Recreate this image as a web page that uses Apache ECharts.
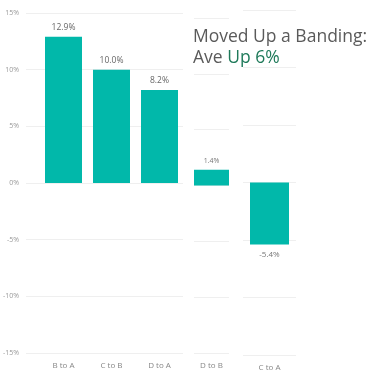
<!DOCTYPE html>
<html>
<head>
<meta charset="utf-8">
<script src="https://cdn.jsdelivr.net/npm/echarts@6/dist/echarts.min.js"></script>
<style>
  html, body { margin: 0; padding: 0; background: #fff; }
  #chart { width: 377px; height: 377px; }
</style>
</head>
<body>
<div id="chart"></div>
<script>
// Datos (tres paneles con su propia escala)
const catsMain = ['B to A', 'C to B', 'D to A'];
const valsMain = [12.9, 10.0, 8.2];
const catsMid = ['D to B'];
const valsMid = [1.4];
const catsRight = ['C to A'];
const valsRight = [-5.4];
const yTicks = [-15, -10, -5, 0, 5, 10, 15];

const teal = '#01B8AA';
const font = '"Open Sans", "Noto Sans", sans-serif';

function pct(v) {
    return v.toFixed(1) + '%';
}

function barData(vals) {
    return vals.map(v => ({
        value: v,
        label: { position: v < 0 ? 'bottom' : 'top' }
    }));
}

function yAxisFor(gridIndex, showLabels, showSplit) {
    return {
        type: 'value',
        gridIndex: gridIndex,
        min: yTicks[0],
        max: yTicks[yTicks.length - 1],
        interval: 5,
        axisLine: { show: false },
        axisTick: { show: false },
        axisLabel: {
            show: showLabels,
            formatter: '{value}%',
            fontFamily: font,
            fontSize: 7,
            color: '#999',
            margin: 7
        },
        splitLine: { show: showSplit, lineStyle: { color: '#efefef', width: 1 } }
    };
}

function catAxis(gridIndex, data, margin) {
    return {
        type: 'category',
        gridIndex: gridIndex,
        data: data,
        axisLine: { show: false },
        axisTick: { show: false },
        splitLine: { show: false },
        axisLabel: { fontFamily: font, fontSize: 8, color: '#888', margin: margin, interval: 0 }
    };
}

const chart = echarts.init(document.getElementById('chart'));

const option = {
    animation: false,
    grid: [
        { left: 25, top: 13, width: 158, bottom: 24 },   // solo lineas y etiquetas del eje
        { left: 39.5, top: 13, width: 144, bottom: 24 }, // barras principales
        { left: 194, top: 18, width: 35, bottom: 24 },
        { left: 243, top: 10, width: 53, bottom: 22 }
    ],
    xAxis: [
        { type: 'value', gridIndex: 0, show: false, splitLine: { show: false }, axisLine: { show: false } },
        catAxis(1, catsMain, 9),
        catAxis(2, catsMid, 9),
        catAxis(3, catsRight, 9)
    ],
    yAxis: [
        yAxisFor(0, true, true),
        yAxisFor(1, false, false),
        yAxisFor(2, false, true),
        yAxisFor(3, false, true)
    ],
    series: [
        {
            type: 'bar', xAxisIndex: 1, yAxisIndex: 1,
            data: barData(valsMain), barWidth: 37,
            itemStyle: { color: teal },
            label: { show: true, formatter: p => pct(p.value), fontFamily: font, fontSize: 8.5, color: '#666', distance: 5 }
        },
        {
            type: 'bar', xAxisIndex: 2, yAxisIndex: 2,
            data: barData(valsMid), barWidth: 35,
            itemStyle: { color: teal },
            label: { show: true, formatter: p => pct(p.value), fontFamily: font, fontSize: 7, color: '#777', distance: 5 }
        },
        {
            type: 'bar', xAxisIndex: 3, yAxisIndex: 3,
            data: barData(valsRight), barWidth: 39,
            itemStyle: { color: teal },
            label: { show: true, formatter: p => pct(p.value), fontFamily: font, fontSize: 8, color: '#777', distance: 6 }
        }
    ],
    graphic: [{
        type: 'text',
        left: 193,
        top: 28,
        z: 100,
        style: {
            text: '{a|Moved Up a Banding:}\n{a|Ave }{g|Up 6%}',
            rich: {
                a: { fontFamily: font, fontSize: 17.5, fill: '#5a5a5a', lineHeight: 21 },
                g: { fontFamily: font, fontSize: 17.5, fill: '#1F7A5A', lineHeight: 21 }
            }
        }
    }]
};

chart.setOption(option);
</script>
</body>
</html>
